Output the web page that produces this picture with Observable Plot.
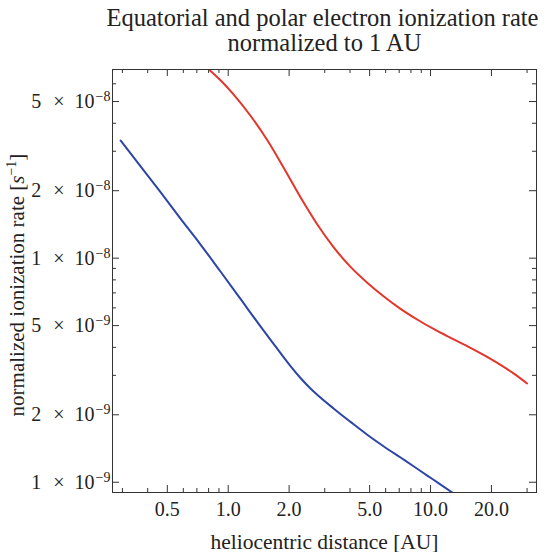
<!DOCTYPE html>
<html>
<head>
<meta charset="utf-8">
<script src="https://cdn.jsdelivr.net/npm/d3@7"></script>
<script src="https://cdn.jsdelivr.net/npm/@observablehq/plot@0.6"></script>
<style>
  body { margin: 0; background: #fff; }
  #chart svg { display: block; }
</style>
</head>
<body>
<div id="chart"></div>
<script>
// Normalized electron ionization rate (s^-1) versus heliocentric distance (AU)
const equatorialAU = [0.808, 0.927, 1.062, 1.289, 1.564, 1.877, 2.277, 2.763, 3.316, 4.023, 4.883,
                      5.857, 7.107, 8.627, 10.35, 12.56, 15.24, 18.28, 22.18, 25.72, 30.0];
const equatorialRate = [6.92e-8, 6.16e-8, 5.38e-8, 4.32e-8, 3.35e-8, 2.54e-8, 1.87e-8, 1.41e-8, 1.12e-8, 9.14e-9, 7.75e-9,
                        6.76e-9, 5.94e-9, 5.31e-9, 4.83e-9, 4.41e-9, 4.04e-9, 3.70e-9, 3.34e-9, 3.06e-9, 2.76e-9];

const polarAU = [0.294, 0.369, 0.463, 0.581, 0.730, 0.916, 1.150, 1.444, 1.713, 2.032, 2.277,
                 2.551, 2.763, 3.327, 4.023, 4.866, 5.857, 7.107, 8.241, 9.632, 11.08, 12.80];
const polarRate = [3.35e-8, 2.57e-8, 1.97e-8, 1.50e-8, 1.15e-8, 8.72e-9, 6.58e-9, 4.96e-9, 4.04e-9, 3.30e-9, 2.92e-9,
                   2.62e-9, 2.45e-9, 2.13e-9, 1.86e-9, 1.63e-9, 1.448e-9, 1.289e-9, 1.179e-9, 1.071e-9, 0.984e-9, 0.90e-9];

// Axis ticks
const xMajor = [0.5, 1, 2, 5, 10, 20];
const xMinor = [0.3, 0.4, 0.6, 0.7, 0.8, 0.9, 3, 4, 6, 7, 8, 9, 30];
const yMajor = [1e-9, 2e-9, 5e-9, 1e-8, 2e-8, 5e-8];
const yMinor = [3e-9, 4e-9, 6e-9, 7e-9, 8e-9, 9e-9, 3e-8, 4e-8, 6e-8];

const titleLines = ["Equatorial and polar electron ionization rate", "normalized to 1 AU"];
const xLabel = "heliocentric distance [AU]";
const yLabel = "normalized ionization rate [s−1]";

const equatorial = equatorialAU.map((d, i) => ({au: d, rate: equatorialRate[i]}));
const polar = polarAU.map((d, i) => ({au: d, rate: polarRate[i]}));

const W = 550, H = 552;
const mL = 112, mR = 14, mT = 69, mB = 60;
const innerW = W - mL - mR, innerH = H - mT - mB;
const major = 7, minor = 4;
const tickColor = "#333";
const textColor = "#222";

// mantissa|exponent pairs; spacing and the raised exponent are set after rendering
function sciFormat(v) {
  const e = Math.floor(Math.log10(v) + 1e-9);
  const m = Math.round(v / Math.pow(10, e));
  return `${m}|${e < 0 ? "−" + (-e) : e}`;
}

const svg = Plot.plot({
  width: W,
  height: H,
  marginLeft: mL,
  marginRight: mR,
  marginTop: mT,
  marginBottom: mB,
  style: {fontFamily: "'Liberation Serif', 'Times New Roman', serif", fontSize: "20px", background: "#fff", color: textColor},
  x: {type: "log", domain: [0.268, 33.4], axis: null},
  y: {type: "log", domain: [9.0e-10, 6.95e-8], axis: null},
  marks: [
    // inward ticks on all four sides
    Plot.tickY(yMajor, {y: d => d, insetRight: innerW - major, stroke: tickColor}),
    Plot.tickY(yMajor, {y: d => d, insetLeft: innerW - major, stroke: tickColor}),
    Plot.tickY(yMinor, {y: d => d, insetRight: innerW - minor, stroke: tickColor}),
    Plot.tickY(yMinor, {y: d => d, insetLeft: innerW - minor, stroke: tickColor}),
    Plot.tickX(xMajor, {x: d => d, insetTop: innerH - major, stroke: tickColor}),
    Plot.tickX(xMajor, {x: d => d, insetBottom: innerH - major, stroke: tickColor}),
    Plot.tickX(xMinor, {x: d => d, insetTop: innerH - minor, stroke: tickColor}),
    Plot.tickX(xMinor, {x: d => d, insetBottom: innerH - minor, stroke: tickColor}),
    Plot.axisX({ticks: xMajor, tickFormat: d => d.toFixed(1), tickSize: 0, tickPadding: 9, fontSize: 20, label: null}),
    Plot.axisY({ticks: yMajor, tickFormat: sciFormat, tickSize: 0, tickPadding: 2, fontSize: 20, label: null}),
    Plot.line(equatorial, {x: "au", y: "rate", stroke: "#e3362a", strokeWidth: 2, curve: "monotone-x", clip: true}),
    Plot.line(polar, {x: "au", y: "rate", stroke: "#2d45a5", strokeWidth: 2, curve: "monotone-x", clip: true}),
    Plot.frame({stroke: tickColor, strokeWidth: 1}),
    // title
    Plot.text([titleLines[0]], {frameAnchor: "top", lineAnchor: "bottom", dx: -2, dy: -44, fontSize: 24.5, fill: textColor}),
    Plot.text([titleLines[1]], {frameAnchor: "top", lineAnchor: "bottom", dy: -19, fontSize: 24.5, fill: textColor}),
    // axis titles
    Plot.text([xLabel], {frameAnchor: "bottom", lineAnchor: "bottom", dy: 56, fontSize: 21.5, fill: textColor}),
    Plot.text([yLabel], {frameAnchor: "left", textAnchor: "middle", rotate: -90, dx: -95, dy: 4, fontSize: 21, fill: textColor})
  ]
});

// y tick labels: mantissa × 10 with a raised exponent
d3.select(svg).selectAll('g[aria-label="y-axis tick label"] text').each(function () {
  const [mant, exp] = this.textContent.split("|");
  const t = d3.select(this);
  t.text(null);
  t.append("tspan").text(mant);
  t.append("tspan").attr("dx", 12).text("×");
  t.append("tspan").attr("dx", 10).text("10");
  t.append("tspan").attr("dx", 1).attr("font-size", 14).attr("dy", -7).text(exp);
});

// y axis title: italic unit symbol with superscript exponent
d3.select(svg).selectAll("text").filter(function () { return this.textContent === yLabel; }).each(function () {
  const t = d3.select(this);
  t.text(null);
  t.append("tspan").text("normalized ionization rate [");
  t.append("tspan").attr("font-style", "italic").text("s");
  t.append("tspan").attr("font-size", 14).attr("dy", -8).text("−1");
  t.append("tspan").attr("dy", 8).text("]");
});

document.getElementById("chart").appendChild(svg);
</script>
</body>
</html>
